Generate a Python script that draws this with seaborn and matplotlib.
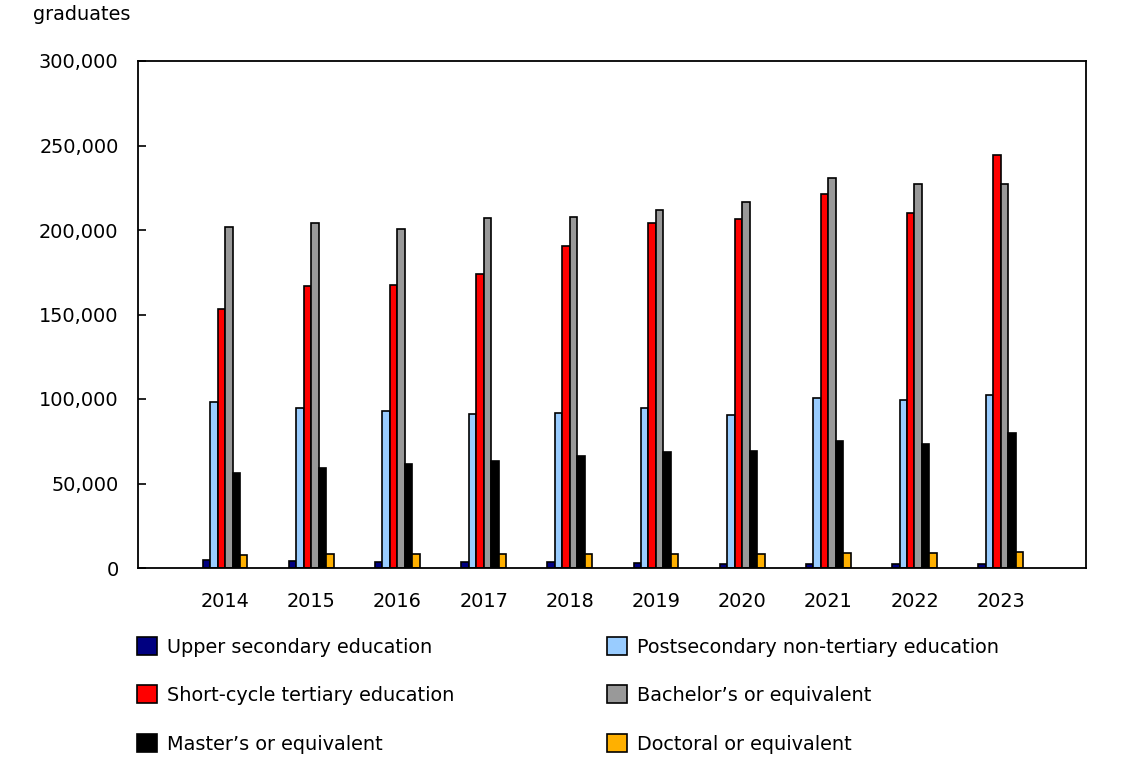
import pandas as pd
import matplotlib
matplotlib.use('Agg')
import matplotlib.pyplot as plt
from matplotlib.patches import Patch
from matplotlib.ticker import FuncFormatter
import seaborn as sns

# Data (number of graduates)
years = ['2014', '2015', '2016', '2017', '2018', '2019', '2020', '2021', '2022', '2023']
levels = ['Upper secondary education', 'Postsecondary non-tertiary education',
          'Short-cycle tertiary education', 'Bachelor\u2019s or equivalent',
          'Master\u2019s or equivalent', 'Doctoral or equivalent']

upper_secondary = [4500, 4100, 3500, 3500, 3300, 3000, 2500, 2400, 2300, 2200]
postsec_non_tertiary = [98200, 94900, 93100, 90900, 91700, 94500, 90500, 100400, 99400, 102500]
short_cycle = [153200, 166700, 167600, 174000, 190300, 204000, 206300, 221100, 210000, 244200]
bachelors = [201900, 204300, 200700, 207300, 207500, 211800, 216700, 230700, 227000, 227500]
masters = [56400, 59400, 61700, 63300, 66300, 68800, 69400, 75100, 73200, 80100]
doctoral = [7700, 8100, 8500, 8500, 8500, 8500, 8100, 8700, 8700, 9300]

colors = ['#000080', '#99CCFF', '#FF0000', '#999999', '#000000', '#FFB000']

series = [upper_secondary, postsec_non_tertiary, short_cycle, bachelors, masters, doctoral]
rows = []
for level, vals in zip(levels, series):
    for yr, v in zip(years, vals):
        rows.append({'year': yr, 'level': level, 'graduates': v})
df = pd.DataFrame(rows)

sns.set_style('white')
plt.rcParams['font.family'] = ['DejaVu Sans']
plt.rcParams['text.color'] = 'black'
plt.rcParams['xtick.color'] = 'black'
plt.rcParams['ytick.color'] = 'black'
fs = 13.9

fig = plt.figure(figsize=(11.4, 7.72), dpi=100)
ax = fig.add_axes([138 / 1140, 1 - 568 / 772, (1086 - 138) / 1140, (568 - 61) / 772])

sns.barplot(data=df, x='year', y='graduates', hue='level', order=years,
            hue_order=levels, palette=colors, width=0.52, edgecolor='black',
            linewidth=1.2, saturation=1, legend=False, ax=ax)

ax.set_xlim(-1.01, 9.99)
ax.set_ylim(0, 300000)
ax.set_yticks(range(0, 300001, 50000))
ax.yaxis.set_major_formatter(FuncFormatter(lambda v, p: f'{int(v):,}'))
ax.set_xlabel('')
ax.set_ylabel('')
ax.tick_params(axis='y', direction='in', length=6, width=1.2, color='black',
               labelsize=fs, pad=14, left=True)
ax.tick_params(axis='x', length=0, labelsize=fs, pad=17)
for s in ax.spines.values():
    s.set_visible(True)
    s.set_color('black')
    s.set_linewidth(1.3)

fig.text(33 / 1140, 1 - 5 / 772, 'graduates', fontsize=fs, ha='left', va='top')

# Legend in two columns below the plot
handles = [Patch(facecolor=c, edgecolor='black', linewidth=1.2) for c in colors]
col1 = [0, 2, 4]
col2 = [1, 3, 5]
for idx, x0 in ((col1, 137), (col2, 607)):
    fig.legend([handles[i] for i in idx], [levels[i] for i in idx],
               loc='upper left', bbox_to_anchor=(x0 / 1140, 1 - 637 / 772),
               frameon=False, fontsize=fs, handlelength=1.05, handleheight=1.05,
               handletextpad=0.5, labelspacing=1.5, borderaxespad=0,
               borderpad=0)

fig.savefig('out.png', dpi=100)
